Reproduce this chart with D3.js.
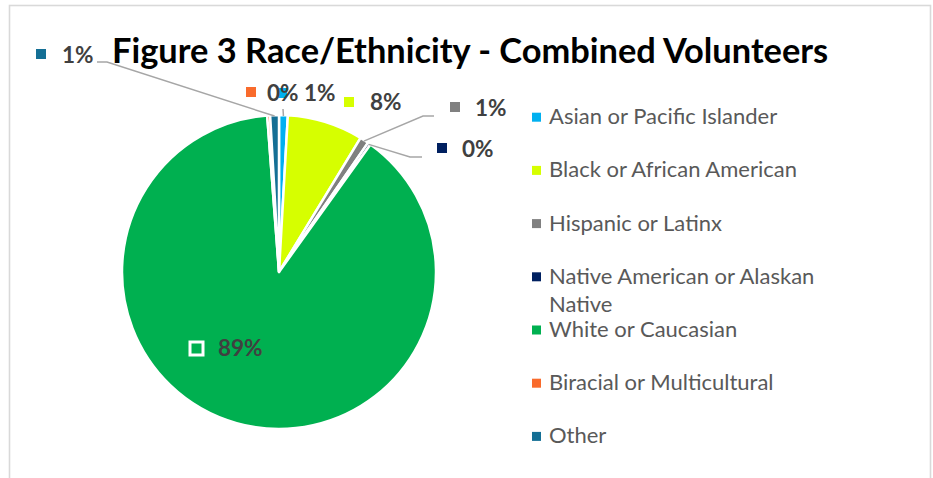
<!DOCTYPE html>
<html>
<head>
<meta charset="utf-8">
<script src="https://cdn.jsdelivr.net/npm/d3@7/dist/d3.min.js"></script>
<style>
  html, body { margin: 0; padding: 0; background: #ffffff; }
  svg { display: block; }
</style>
</head>
<body>
<svg id="chart" width="933" height="478"></svg>
<script>
// Volunteer race / ethnicity shares (percent of combined volunteers)
const categories = [
  "Asian or Pacific Islander",
  "Black or African American",
  "Hispanic or Latinx",
  "Native American or Alaskan Native",
  "White or Caucasian",
  "Biracial or Multicultural",
  "Other"
];
const shares = [0.9, 7.8, 0.9, 0.3, 88.9, 0.3, 0.9];
const sliceColors = ["#00b0f0", "#d6ff00", "#808080", "#002060", "#00b050", "#f96b2c", "#146f95"];
const legendLines = [
  ["Asian or Pacific Islander"],
  ["Black or African American"],
  ["Hispanic or Latinx"],
  ["Native American or Alaskan", "Native"],
  ["White or Caucasian"],
  ["Biracial or Multicultural"],
  ["Other"]
];
const titleText = "Figure 3 Race/Ethnicity - Combined Volunteers";

// Placement of each data label (marker box, text, optional leader elbow)
const labelLayout = [
  { mx: 277, my: 88,  ms: 10, tx: 304, ty: 101, leader: [[283, 109]] },
  { mx: 344, my: 97,  ms: 10, tx: 370, ty: 110, leader: null },
  { mx: 450, my: 102, ms: 10, tx: 475, ty: 116, leader: [[434, 116], [423, 116]] },
  { mx: 437, my: 143, ms: 10, tx: 462, ty: 157, leader: [[422, 157], [410, 157]] },
  { mx: 190, my: 342, ms: 13, tx: 218, ty: 356, leader: null, inside: true },
  { mx: 246, my: 87,  ms: 10, tx: 267, ty: 101, leader: null },
  { mx: 36,  my: 49,  ms: 10, tx: 62,  ty: 63,  leader: [[97, 62], [107, 62]] }
];

const svg = d3.select("#chart");
const W = 933, H = 478;

// outer chart frame
svg.append("rect")
  .attr("x", 9.5).attr("y", 5.5)
  .attr("width", 921).attr("height", H + 20)
  .attr("fill", "#ffffff")
  .attr("stroke", "#d9d9d9")
  .attr("stroke-width", 1.6);

const cx = 279, cy = 272, R = 157;
const total = d3.sum(shares);
const data = categories.map((c, i) => ({ name: c, value: shares[i], color: sliceColors[i], i }));

const pie = d3.pie().value(d => d.value).sort(null);
const arcs = pie(data);
const arc = d3.arc().innerRadius(0).outerRadius(R);
const pct = d3.format(".0%");

const g = svg.append("g").attr("transform", `translate(${cx},${cy})`);
g.selectAll("path.slice")
  .data(arcs)
  .join("path")
  .attr("class", "slice")
  .attr("d", arc)
  .attr("fill", d => d.data.color)
  .attr("stroke", "#ffffff")
  .attr("stroke-width", 2.5)
  .attr("stroke-linejoin", "round");

// leader lines: from the label elbow to the slice's outer edge at mid-angle
const edgePoint = a => {
  const m = (a.startAngle + a.endAngle) / 2;
  return [cx + (R - 1) * Math.sin(m), cy - (R - 1) * Math.cos(m)];
};
arcs.forEach((a, i) => {
  const L = labelLayout[i];
  if (!L.leader) return;
  const pts = L.leader.concat([edgePoint(a)]);
  svg.append("path")
    .attr("d", d3.line()(pts))
    .attr("fill", "none")
    .attr("stroke", "#a6a6a6")
    .attr("stroke-width", 1.5);
});

// data labels
arcs.forEach((a, i) => {
  const L = labelLayout[i];
  svg.append("rect")
    .attr("x", L.mx).attr("y", L.my)
    .attr("width", L.ms).attr("height", L.ms)
    .attr("fill", a.data.color)
    .attr("stroke", L.inside ? "#ffffff" : "none")
    .attr("stroke-width", L.inside ? 3 : 0);
  svg.append("text")
    .attr("x", L.tx).attr("y", L.ty)
    .attr("font-family", "Lato, 'Open Sans', sans-serif")
    .attr("font-weight", 700)
    .attr("font-size", 22.5)
    .attr("fill", "#404040")
    .text(pct(a.data.value / total));
});

// title
svg.append("text")
  .attr("x", 112).attr("y", 63)
  .attr("font-family", "Lato, 'Open Sans', sans-serif")
  .attr("font-weight", 700)
  .attr("font-size", 34.4)
  .attr("fill", "#000000")
  .text(titleText);

// legend
const legendY = d3.scaleLinear().domain([0, categories.length - 1]).range([117.2, 436.4]);
const lg = svg.append("g");
categories.forEach((c, i) => {
  const y = legendY(i);
  lg.append("rect")
    .attr("x", 532).attr("y", y - 4.5)
    .attr("width", 9).attr("height", 9)
    .attr("fill", sliceColors[i]);
  const t = lg.append("text")
    .attr("x", 549).attr("y", y + 7)
    .attr("font-family", "Lato, 'Open Sans', sans-serif")
    .attr("font-size", 22)
    .attr("fill", "#595959");
  legendLines[i].forEach((line, k) => {
    t.append("tspan")
      .attr("x", 549)
      .attr("dy", k === 0 ? 0 : 28)
      .text(line);
  });
});
</script>
</body>
</html>
